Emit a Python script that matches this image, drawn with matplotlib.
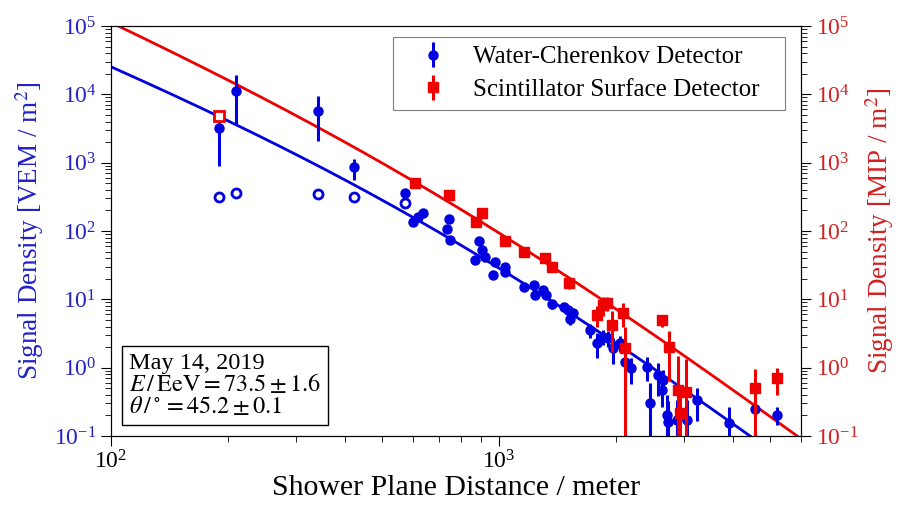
import numpy as np
import matplotlib.pyplot as plt

plt.rcParams['font.family'] = ['Liberation Serif', 'DejaVu Serif']
plt.rcParams['mathtext.fontset'] = 'stix'

# Water-Cherenkov detector signals (filled)
wcd_r = [190, 210, 342, 423, 573, 601, 619, 636, 733, 745, 748, 890, 902, 867, 920,
         977, 1036, 967, 1036, 1160, 1231, 1238, 1301, 1321, 1367, 1471, 1509, 1554,
         1524, 1716, 1786, 1854, 1910, 1971, 2051, 2112, 2185, 2403, 2450, 2574, 2626,
         2651, 2705, 2731, 2871, 3047, 3245, 3926, 4568, 5196]
wcd_s = [3180, 11300, 5750, 855, 360, 137, 162, 185, 106, 148, 73.8, 72, 52.7, 37.6, 42,
         35.6, 29.4, 22.7, 25.4, 15.3, 16.2, 11.6, 13.7, 11.6, 8.55, 7.64, 6.98, 6.24,
         5.1, 3.56, 2.27, 2.84, 2.72, 1.92, 2.27, 1.22, 0.98, 1.03, 0.30, 0.78, 0.47,
         0.66, 0.20, 0.16, 0.17, 0.17, 0.336, 0.157, 0.246, 0.203]
wcd_err = [2300, 7800, 3700, 290, 40, 10, 12, 12, 9, 11, 7, 7, 6, 4, 5,
           4, 3.5, 3, 3, 2, 2, 1.6, 1.8, 1.6, 1.3, 1.2, 1.1, 1.0,
           0.9, 0.8, 0.9, 0.7, 0.7, 0.8, 0.6, 0.5, 0.4, 0.4, 0.3, 0.4, 0.2,
           0.25, 0.2, 0.17, 0.17, 0.17, 0.17, 0.11, 0.06, 0.06]

# Water-Cherenkov detector signals (open)
wcd_open_r = [190, 210, 342, 423, 572]
wcd_open_s = [311, 356, 348, 311, 254]

# Scintillator surface detector signals
ssd_r = [608, 745, 872, 902, 1036, 1162, 1314, 1367, 1515, 1786, 1857, 1895, 1953,
         2084, 2112, 2626, 2743, 2898, 3034, 2928, 4568, 5196]
ssd_s = [509, 336, 137, 181, 72.1, 49.8, 39.8, 30, 17.1, 5.9, 8.27, 8.75, 4.2,
         6.37, 1.92, 4.98, 2.03, 0.47, 0.445, 0.215, 0.499, 0.698]
ssd_err = [20, 15, 8, 10, 5, 4, 4, 3, 3, 2, 2.5, 2, 2.5,
           2.5, 2.0, 1.0, 1.4, 1.0, 0.9, 0.3, 0.45, 0.3]

ssd_open_r = [190]
ssd_open_s = [4870]

# LDF fit parameters: S1000, beta, beta+gamma
wcd_ldf = (28.6, -2.276, -2.049)
ssd_ldf = (93.6, -2.489, -1.804)


def ldf(r, p):
    s1000, beta, bg = p
    return s1000 * (r / 1000.0) ** beta * ((r + 700.0) / 1700.0) ** bg


blue = '#0000e0'
red = '#ee0000'
blue_txt = '#2222c8'
red_txt = '#d42020'

fig = plt.figure(figsize=(8.99, 5.11), dpi=100)
ax = fig.add_axes([0.1235, 0.1468, 0.7674, 0.8023])
ax.set_xscale('log')
ax.set_yscale('log')
ax.set_xlim(100, 6000)
ax.set_ylim(0.1, 1e5)

rr = np.logspace(2, np.log10(6000), 300)
ax.plot(rr, ldf(rr, wcd_ldf), color=blue, lw=2, zorder=2)
ax.plot(rr, ldf(rr, ssd_ldf), color=red, lw=2, zorder=2)

h1 = ax.errorbar(wcd_r, wcd_s, yerr=wcd_err, fmt='o', color=blue, ms=6.5,
                 elinewidth=2.2, capsize=0, zorder=3, label='Water-Cherenkov Detector')
ax.plot(wcd_open_r, wcd_open_s, 'o', mfc='white', mec=blue, mew=2, ms=6.5, zorder=3)
h2 = ax.errorbar(ssd_r, ssd_s, yerr=ssd_err, fmt='s', color=red, ms=7,
                 elinewidth=2.2, capsize=0, zorder=4, label='Scintillator Surface Detector')
ax.plot(ssd_open_r, ssd_open_s, 's', mfc='white', mec=red, mew=2, ms=7, zorder=5)

ax.set_xlabel('Shower Plane Distance / meter', fontsize=21.5, labelpad=1)
ax.set_ylabel('Signal Density [VEM / m$^2$]', fontsize=19.5, color=blue_txt, labelpad=6)
ax.tick_params(which='both', direction='out', labelsize=17)
ax.tick_params(axis='y', which='both', labelcolor=blue_txt)
ax.tick_params(which='major', length=7)
ax.tick_params(which='minor', length=4)

ax2 = ax.twinx()
ax2.set_yscale('log')
ax2.set_ylim(0.1, 1e5)
ax2.set_ylabel('Signal Density [MIP / m$^2$]', fontsize=19.5, color=red_txt, labelpad=4)
ax2.tick_params(which='both', direction='out', labelsize=17, labelcolor=red_txt)
ax2.tick_params(which='major', length=7)
ax2.tick_params(which='minor', length=4)

leg = ax.legend(handles=[h1, h2], loc='upper left', bbox_to_anchor=(0.4087, 0.5, 0.568, 0.473),
                mode='expand', borderaxespad=0, fontsize=18, fancybox=False, edgecolor='gray',
                framealpha=1, handlelength=2.5, handletextpad=0.35, borderpad=0.35,
                labelspacing=0.4)
leg.get_frame().set_linewidth(0.8)

info = ('May 14, 2019\n'
        '$E\\,/\\,\\mathrm{EeV} = 73.5 \\pm 1.6$\n'
        '$\\theta\\,/^\\circ = 45.2 \\pm 0.1$')
ax.text(0.026, 0.045, info, transform=ax.transAxes, fontsize=17.5, va='bottom', ha='left',
        linespacing=0.9,
        bbox=dict(boxstyle='square,pad=0.3', fc='white', ec='black', lw=1))

fig.savefig('out.png', dpi=100)
